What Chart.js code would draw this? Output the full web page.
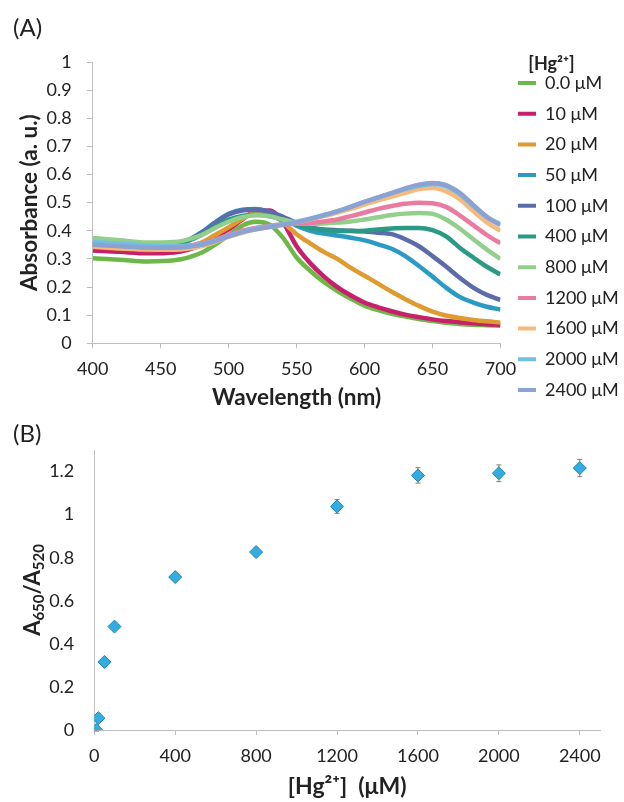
<!DOCTYPE html>
<html><head><meta charset="utf-8">
<script src="https://cdn.jsdelivr.net/npm/chart.js@4"></script>
<style>
html,body{margin:0;padding:0;background:#fff;}
body{width:624px;height:802px;position:relative;overflow:hidden;}
.panel{position:absolute;left:0;width:624px;}
#wa{top:0;height:425px;}
#wb{top:425px;height:377px;}
.lab{position:absolute;left:13px;font:24px Lato, sans-serif;color:#222;line-height:28px;}
</style></head><body>
<div id="wa" class="panel"><canvas id="ca"></canvas></div>
<div id="wb" class="panel"><canvas id="cb"></canvas></div>
<div class="lab" style="top:13px">(A)</div>
<div class="lab" style="top:419px">(B)</div>
<script>
// ---------- Panel A data ----------
const wavelengths = [400,420,440,460,480,490,500,510,520,530,540,550,560,570,580,590,600,610,620,630,640,650,660,670,680,690,700];
const concLabels = ['0.0 μM','10 μM','20 μM','50 μM','100 μM','400 μM','800 μM','1200 μM','1600 μM','2000 μM','2400 μM'];
const abs_0    = [.302,.297,.291,.295,.322,.350,.384,.418,.432,.422,.375,.305,.258,.218,.186,.158,.134,.118,.105,.095,.086,.079,.073,.069,.066,.064,.062];
const abs_10   = [.330,.325,.320,.323,.350,.378,.405,.440,.470,.472,.430,.345,.285,.238,.200,.170,.145,.128,.114,.102,.093,.085,.079,.075,.071,.068,.066];
const abs_20   = [.342,.337,.332,.335,.358,.385,.412,.442,.465,.465,.430,.388,.355,.325,.300,.268,.240,.212,.183,.157,.133,.113,.099,.090,.083,.078,.074];
const abs_50   = [.356,.350,.344,.348,.395,.430,.460,.475,.477,.467,.447,.418,.400,.390,.383,.375,.366,.352,.336,.310,.275,.237,.198,.165,.145,.130,.120];
const abs_100  = [.352,.348,.342,.346,.392,.428,.458,.472,.476,.468,.450,.428,.412,.405,.402,.400,.397,.393,.388,.370,.345,.310,.273,.233,.198,.172,.154];
const abs_400  = [.352,.348,.346,.350,.385,.415,.440,.453,.457,.452,.438,.422,.410,.403,.400,.399,.400,.405,.408,.410,.410,.402,.380,.340,.305,.272,.245];
const abs_800  = [.374,.366,.358,.360,.385,.410,.432,.448,.455,.452,.440,.428,.425,.426,.429,.433,.440,.448,.456,.461,.463,.460,.440,.408,.370,.333,.300];
const abs_1200 = [.356,.350,.345,.343,.355,.368,.385,.400,.410,.417,.423,.425,.428,.433,.440,.452,.465,.478,.488,.496,.500,.498,.485,.455,.420,.385,.355];
const abs_1600 = [.345,.338,.335,.333,.345,.360,.378,.393,.405,.413,.422,.430,.440,.452,.465,.478,.493,.508,.522,.535,.548,.552,.540,.512,.470,.430,.400];
const abs_2000 = [.360,.354,.348,.345,.352,.365,.382,.397,.407,.415,.423,.432,.443,.456,.470,.486,.503,.518,.533,.548,.560,.566,.558,.530,.488,.448,.423];
const abs_2400 = [.350,.345,.340,.340,.350,.363,.380,.395,.405,.413,.421,.430,.442,.455,.469,.485,.503,.519,.535,.551,.564,.570,.562,.535,.492,.450,.420];
const seriesA = [abs_0,abs_10,abs_20,abs_50,abs_100,abs_400,abs_800,abs_1200,abs_1600,abs_2000,abs_2400];
const colorsA = ['#6db848','#c81f6b','#df9a30','#2b9bc3','#5a6ca9','#2a9a86','#92cf8c','#e97aa0','#f8b97c','#72c0e0','#8ca2d2'];

// ---------- Panel B data ----------
const hgConc   = [10,20,50,100,400,800,1200,1600,2000,2400];
const ratio    = [0,0.055,0.316,0.48,0.71,0.826,1.038,1.182,1.192,1.216];
const ratioErr = [0.005,0.008,0.01,0.012,0.015,0.02,0.032,0.036,0.039,0.04];
const xTicksB  = [0,400,800,1200,1600,2000,2400];
const yTicksB  = [0,0.2,0.4,0.6,0.8,1,1.2];
const yTitleB  = [['A', 0], ['650', 1], ['/A', 0], ['520', 1]];

Chart.defaults.font.family = 'Lato, sans-serif';
Chart.defaults.color = '#222';
const AXIS = '#bfbfbf';
const fmt = v => String(+(+v).toFixed(2));

// place the legend block like the reference
const legendPlace = {
  id: 'legendPlace',
  afterLayout(chart) {
    const lg = chart.legend;
    if (!lg) return;
    lg.left = 505.3; lg.width = 92.4; lg.right = 624;
  }
};

new Chart(document.getElementById('ca'), {
  type: 'line',
  data: {
    datasets: seriesA.map((arr, i) => ({
      label: concLabels[i],
      data: arr.map((v, j) => ({x: wavelengths[j], y: v})),
      borderColor: colorsA[i],
      backgroundColor: colorsA[i],
      borderWidth: 4.5,
      pointRadius: 0,
      cubicInterpolationMode: 'monotone',
      order: seriesA.length - 1 - i
    }))
  },
  options: {
    responsive: true, maintainAspectRatio: false, animation: false,
    layout: {padding: 0},
    plugins: {
      tooltip: {enabled: false},
      title: {display: true, text: '', fullSize: false, font: {size: 10}, padding: {top: 50, bottom: 0}},
      legend: {
        position: 'right', align: 'start',
        labels: {
          font: {size: 18}, color: '#222', boxWidth: 18, boxHeight: 4, padding: 12.7,
          sort: (a, b) => a.datasetIndex - b.datasetIndex,
          generateLabels: (chart) => Chart.defaults.plugins.legend.labels.generateLabels(chart).map(it => Object.assign(it, {lineWidth: 0, fillStyle: it.strokeStyle}))
        },
        title: {display: true, text: '[Hg²⁺]', position: 'center', font: {size: 18, weight: 'bold'}, color: '#222', padding: {top: 55, bottom: -15.3}}
      }
    },
    scales: {
      x: {
        type: 'linear', min: 400, max: 700,
        ticks: {stepSize: 50, font: {size: 18}, padding: 10, maxRotation: 0, callback: fmt},
        grid: {drawOnChartArea: false, drawTicks: true, tickLength: 5, color: AXIS},
        border: {color: AXIS},
        title: {display: true, text: 'Wavelength (nm)', font: {size: 22.5, weight: 'bold'}, padding: {top: 0, bottom: 13.5}},
        afterFit: s => { s.height = 425 - 343.3; }
      },
      y: {
        min: 0, max: 1,
        ticks: {stepSize: 0.1, font: {size: 18}, padding: 15, callback: fmt},
        grid: {drawOnChartArea: false, drawTicks: true, tickLength: 6, color: AXIS},
        border: {color: AXIS},
        title: {display: true, text: 'Absorbance (a. u.)', font: {size: 22.5, weight: 'bold'}, padding: {top: 16.5, bottom: 0}},
        afterFit: s => { s.width = 92.7; }
      }
    }
  },
  plugins: [legendPlace]
});

const errorBars = {
  id: 'errorBars',
  beforeDatasetsDraw(chart) {
    const {ctx, scales: {x, y}} = chart;
    ctx.save();
    ctx.strokeStyle = '#7f7f7f'; ctx.lineWidth = 1;
    hgConc.forEach((c, i) => {
      const e = ratioErr[i];
      const px = x.getPixelForValue(c);
      const t = y.getPixelForValue(ratio[i] + e), b = y.getPixelForValue(ratio[i] - e);
      ctx.beginPath();
      ctx.moveTo(px, t); ctx.lineTo(px, b);
      ctx.moveTo(px - 2.5, t); ctx.lineTo(px + 2.5, t);
      ctx.moveTo(px - 2.5, b); ctx.lineTo(px + 2.5, b);
      ctx.stroke();
    });
    ctx.restore();
  }
};

// y-axis title with real subscripts
const yTitleSub = {
  id: 'yTitleSub',
  afterDraw(chart) {
    const {ctx, chartArea} = chart;
    const fonts = ['bold 22px Lato, sans-serif', 'bold 15px Lato, sans-serif'];
    ctx.save();
    let total = 0;
    const widths = yTitleB.map(p => { ctx.font = fonts[p[1]]; const w = ctx.measureText(p[0]).width; total += w; return w; });
    ctx.translate(31.7, (chartArea.top + chartArea.bottom) / 2);
    ctx.rotate(-Math.PI / 2);
    ctx.fillStyle = '#222'; ctx.textBaseline = 'alphabetic'; ctx.textAlign = 'left';
    let x = -total / 2;
    yTitleB.forEach((p, i) => { ctx.font = fonts[p[1]]; ctx.fillText(p[0], x, p[1] ? 12 : 8); x += widths[i]; });
    ctx.restore();
  }
};

new Chart(document.getElementById('cb'), {
  type: 'scatter',
  data: {
    datasets: [{
      label: 'A650/A520',
      data: hgConc.map((c, i) => ({x: c, y: ratio[i]})),
      pointStyle: 'rectRot', pointRadius: 6.5,
      backgroundColor: '#33ade0', borderColor: '#1f86b8', borderWidth: 1
    }]
  },
  options: {
    responsive: true, maintainAspectRatio: false, animation: false,
    layout: {padding: {top: 25, right: 24, left: 0, bottom: 0}},
    plugins: {legend: {display: false}, tooltip: {enabled: false}},
    scales: {
      x: {
        type: 'linear', min: 0, max: 2500,
        ticks: {font: {size: 18}, padding: 10, maxRotation: 0, autoSkip: false, callback: fmt},
        afterBuildTicks: s => { s.ticks = xTicksB.map(v => ({value: v})); },
        grid: {drawOnChartArea: false, drawTicks: true, tickLength: 5, color: AXIS},
        border: {color: AXIS},
        title: {display: true, text: '[Hg²⁺]  (μM)', font: {size: 23, weight: 'bold'}, padding: {top: 0, bottom: 1.2}},
        afterFit: s => { s.height = 377 - 305; }
      },
      y: {
        min: 0, max: 1.3,
        ticks: {font: {size: 18}, padding: 6, autoSkip: false, callback: fmt},
        afterBuildTicks: s => { s.ticks = yTicksB.map(v => ({value: v})); },
        grid: {display: false, drawTicks: true, tickLength: 14},
        border: {display: true, color: AXIS},
        title: {display: false},
        afterFit: s => { s.width = 94.3; }
      }
    }
  },
  plugins: [errorBars, yTitleSub]
});
</script>
</body></html>
